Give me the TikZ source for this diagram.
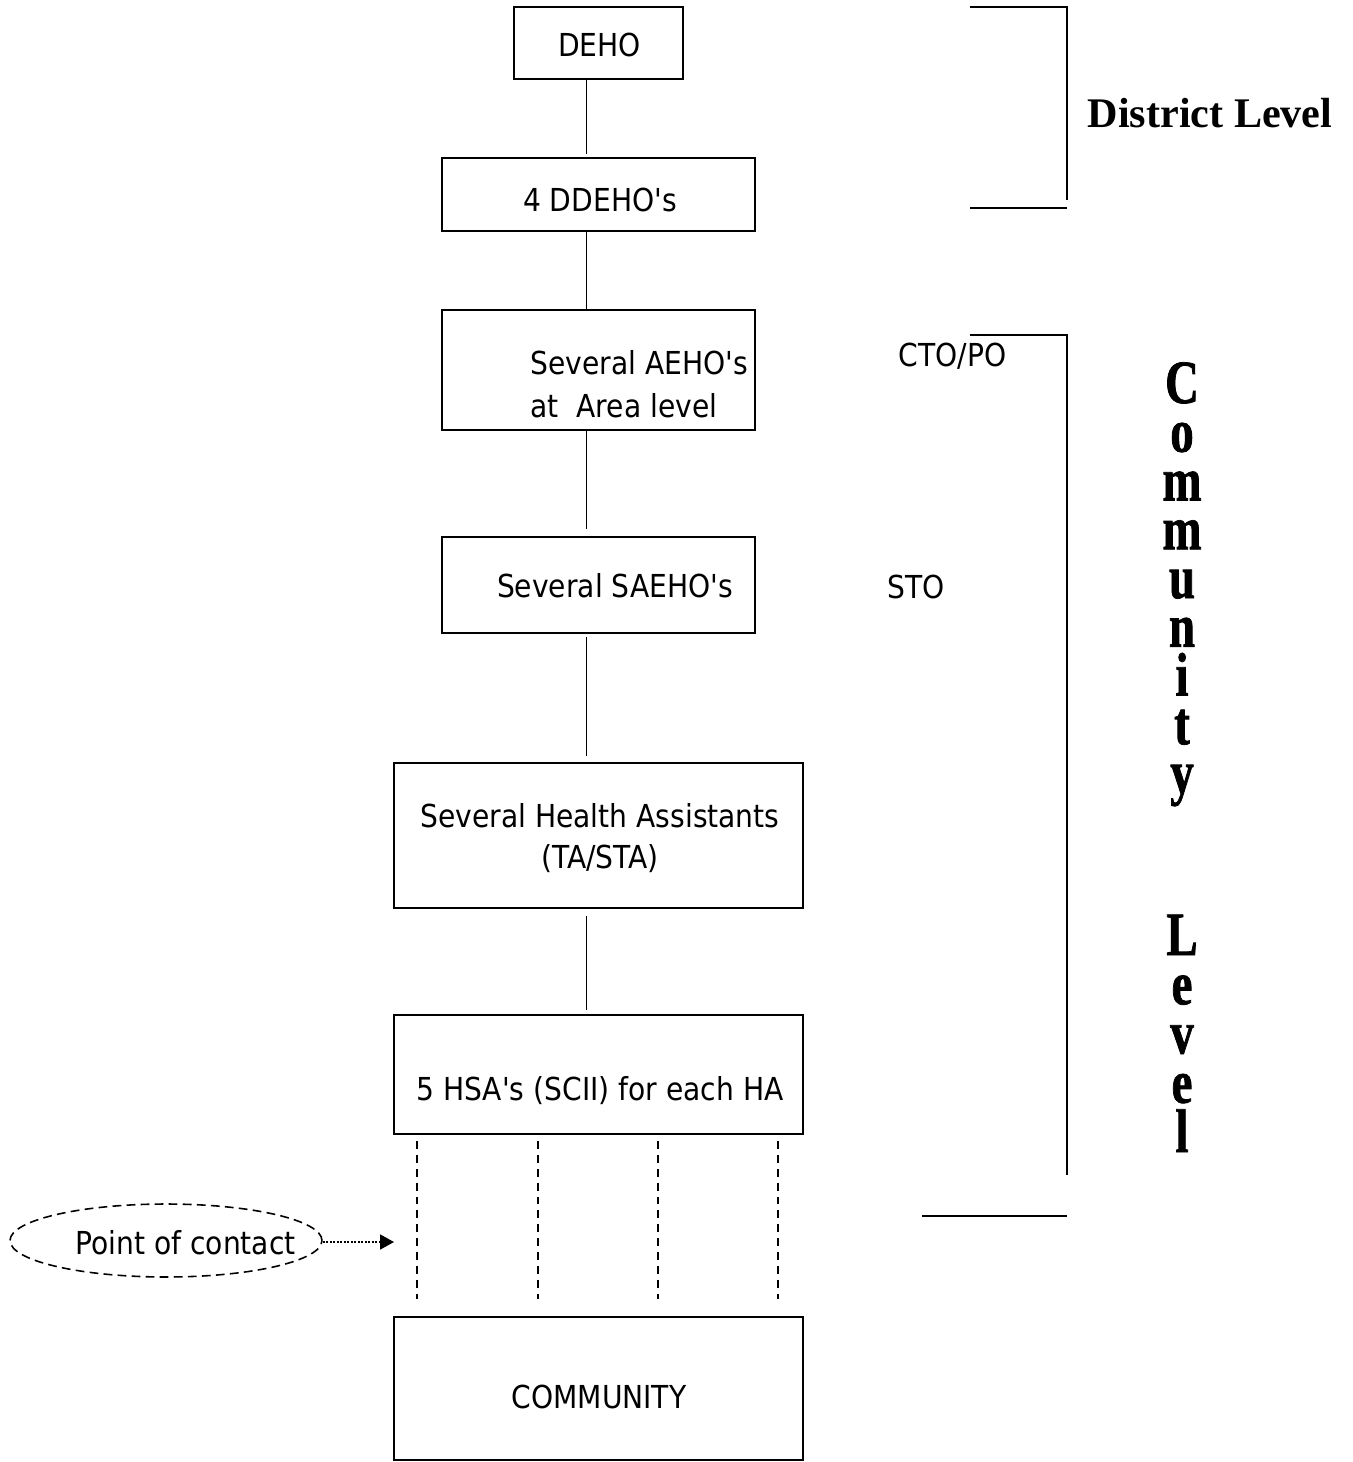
\documentclass[tikz,border=0pt]{standalone}
\usepackage{fontspec}
\usetikzlibrary{shapes.geometric, arrows.meta, calc}
\newfontfamily\boxfont[FakeStretch=0.89]{DejaVu Sans}
\newfontfamily\headfont{Liberation Serif}
\newfontfamily\tallfont[FakeStretch=0.76, FakeBold=1.2]{Liberation Serif}

\tikzset{
	orgbox/.style={draw, line width=1.2pt, inner sep=0pt},
	boxtext/.style={inner sep=0pt, font=\boxfont\fontsize{18}{23}\selectfont},
	link/.style={line width=0.9pt},
	dashlink/.style={line width=1.1pt, dash pattern=on 4.5pt off 3.4pt},
	bracket/.style={line width=0.9pt},
	tallletter/.style={inner sep=0pt, anchor=base, font=\tallfont\bfseries\fontsize{35}{35}\selectfont},
}

\begin{document}
\begin{tikzpicture}[x=0.02cm, y=-0.02cm]
				\useasboundingbox (0,0) rectangle (1352,1462);
				\coordinate (spine) at (586.5,0);

				% boxes of the chain
				\node[orgbox, minimum width=3.38cm, minimum height=1.44cm] (deho) at (598.5,43) {};
				\node[orgbox, minimum width=6.26cm, minimum height=1.46cm] (ddeho) at (598.5,194.5) {};
				\node[orgbox, minimum width=6.26cm, minimum height=2.40cm] (aeho) at (598.5,370) {};
				\node[orgbox, minimum width=6.26cm, minimum height=1.92cm] (saeho) at (598.5,585) {};
				\node[orgbox, minimum width=8.18cm, minimum height=2.90cm] (ha) at (598.5,835.5) {};
				\node[orgbox, minimum width=8.18cm, minimum height=2.38cm] (hsa) at (598.5,1074.5) {};
				\node[orgbox, minimum width=8.18cm, minimum height=2.86cm] (comm) at (598.5,1388.5) {};

				% texts in the boxes
				\node[boxtext, anchor=base] (deho-txt) at (599.5,57) {DEHO};
				\node[boxtext, anchor=base] (ddeho-txt) at (600,212) {4 DDEHO's};
				\node[boxtext, anchor=west, align=left] (aeho-txt) at (530,384.5) {Several AEHO's\\[1.5pt]at\ \ Area level};
				\node[boxtext, anchor=base] (saeho-txt) at (615,597) {Several SAEHO's};
				\node[boxtext, align=center] (ha-txt) at (600,838) {Several Health Assistants\\(TA/STA)};
				\node[boxtext, anchor=base] (hsa-txt) at (600,1100) {5 HSA's (SCII) for each HA};
				\node[boxtext, anchor=base] (comm-txt) at (599,1408) {COMMUNITY};

				\node[boxtext, anchor=base] (cto) at (952.5,367) {CTO/PO};
				\node[boxtext, anchor=base] (sto) at (916.5,598) {STO};

				% links
				\draw[link, shorten >=1.7pt] (deho.south -| spine) -- (ddeho.north -| spine);
				\draw[link] (ddeho.south -| spine) -- (aeho.north -| spine);
				\draw[link, shorten >=4pt] (aeho.south -| spine) -- (saeho.north -| spine);
				\draw[link, shorten <=1.7pt, shorten >=3.4pt] (saeho.south -| spine) -- (ha.north -| spine);
				\draw[link, shorten <=4pt, shorten >=2.3pt] (ha.south -| spine) -- (hsa.north -| spine);

				\foreach \dx in {24,145,265,385}
					\draw[dashlink, shorten <=3.4pt, shorten >=9.6pt] ($(hsa.south west)+(\dx,0)$) -- ($(comm.north west)+(\dx,0)$);

				% point of contact
				\node[ellipse, draw, line width=0.9pt, dash pattern=on 5pt off 3pt, minimum width=6.24cm, minimum height=1.46cm] (contact) at (166,1240.5) {};
				\node[boxtext, anchor=base] (contact-txt) at (185.5,1254) {Point of contact};
				\coordinate (contact-tip) at (394,1242);
				\draw[line width=0.8pt, dash pattern=on 1pt off 1pt, -{Triangle[length=7.9pt, width=8.5pt]}] (contact.east |- contact-tip) -- (contact-tip);

				% level brackets
				\draw[bracket] (970,7) -- (1067,7) -- (1067,200);
				\draw[bracket] (970,208) -- (1067,208);
				\draw[bracket] (970,335) -- (1067,335) -- (1067,1175);
				\draw[bracket] (922,1216) -- (1067,1216);

				\node[inner sep=0pt, anchor=base, font=\headfont\bfseries\fontsize{24}{28}\selectfont] (district) at (1210,128) {District Level};

				\foreach \ch [count=\i from 0] in {C,o,m,m,u,n,i,t,y}
					\node[tallletter] (cl-\i) at (1182,{403+48.75*\i}) {\ch};
				\foreach \ch [count=\i from 0] in {L,e,v,e,l}
					\node[tallletter] (ll-\i) at (1182,{955+49.25*\i}) {\ch};
\end{tikzpicture}
\end{document}
